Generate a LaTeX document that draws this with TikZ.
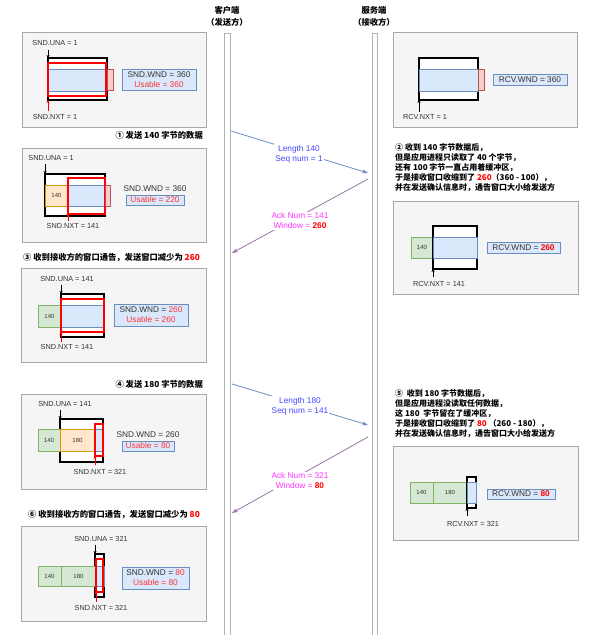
\documentclass[tikz,border=0pt]{standalone}
\usepackage{fontspec}
\setmainfont{Liberation Sans}
\newfontfamily\cjk{Noto Sans CJK SC}
\usetikzlibrary{arrows.meta}
\definecolor{bandF}{HTML}{DAE8FC}
\definecolor{bandD}{HTML}{6C8EBF}
\definecolor{pinkF}{HTML}{F8CECC}
\definecolor{pinkD}{HTML}{B85450}
\definecolor{orF}{HTML}{FFE6CC}
\definecolor{orD}{HTML}{D79B00}
\definecolor{grF}{HTML}{D5E8D4}
\definecolor{grD}{HTML}{82B366}
\definecolor{panelF}{HTML}{F5F5F5}
\definecolor{panelD}{HTML}{A8A8A8}
\definecolor{txt}{HTML}{333333}
\definecolor{rd}{HTML}{FF3333}
\definecolor{msgblue}{HTML}{4646FF}
\definecolor{ackmag}{HTML}{FF33FF}
\definecolor{arrblue}{HTML}{6C8EBF}
\definecolor{arrpur}{HTML}{9673A6}
\newcommand\bx[7]{\node[#2,minimum width={#5pt-#3pt},minimum height={#6pt-#4pt}] (#1) at ({(#3+#5)/2},{(#4+#6)/2}) {#7};}
\tikzset{
  cell/.style={rectangle, inner sep=0pt, outer sep=0pt, font=\fontsize{6}{7}\selectfont, text=txt},
  panel/.style={cell, draw=panelD, fill=panelF, line width=0.8pt},
  win/.style={cell, draw=black, fill=white, line width=1.3pt},
  redwin/.style={cell, draw=red, line width=1.3pt},
  band/.style={cell, draw=bandD, fill=bandF, line width=0.6pt},
  pinkb/.style={cell, draw=pinkD, fill=pinkF, line width=0.6pt},
  orb/.style={cell, draw=orD, fill=orF, line width=0.6pt},
  grb/.style={cell, draw=grD, fill=grF, line width=0.6pt},
  wndbox/.style={cell, draw=bandD, fill=bandF, line width=0.6pt, font=\fontsize{8.3}{10}\selectfont, align=center},
  lbl/.style={inner sep=0pt, font=\fontsize{7.3}{9}\selectfont, text=txt},
  big/.style={inner sep=0pt, font=\fontsize{8.3}{10}\selectfont, text=txt},
  life/.style={cell, draw=black!30, fill=white, line width=0.8pt},
  title/.style={inner sep=0pt, font=\cjk\bfseries\fontsize{8.3}{12}\selectfont, text=black},
  steptext/.style={inner sep=0pt, font=\cjk\bfseries\fontsize{8}{10}\selectfont, align=left, anchor=north west, text=black},
  msg/.style={inner sep=1pt, fill=white, font=\fontsize{8.3}{10}\selectfont, align=center, text=msgblue},
  ack/.style={inner sep=1pt, fill=white, font=\fontsize{8.3}{10}\selectfont, align=center, text=ackmag},
  parr/.style={-{Stealth[length=3pt,width=3pt]}, line width=0.6pt},
  marr/.style={-{Stealth[length=6pt,width=4pt]}, line width=0.8pt, draw=arrblue},
  aarr/.style={-{Stealth[length=6pt,width=4pt]}, line width=0.8pt, draw=arrpur},
}
\begin{document}
\begin{tikzpicture}[x=1pt,y=-1pt]
\useasboundingbox (0,0) rectangle (602,635);
% lifelines and headers
\bx{cl}{life}{224}{33}{230}{637}{}
\bx{sv}{life}{372}{33}{377}{637}{}
\node[title, align=center] (hc) at (227,16) {客户端\\（发送方）};
\node[title, align=center] (hs) at (374,16) {服务端\\（接收方）};

% ---------- box 1 (client)
\bx{p1}{panel}{22}{32}{206}{127}{}
\bx{blk1}{win}{48}{58}{107}{100}{}
\bx{band1}{band}{48}{69}{106}{91}{}
\bx{red1}{redwin}{48}{63}{106}{96}{}
\bx{pink1}{pinkb}{107}{69}{113}{90}{}
\node[lbl] (una1) at (55,43) {SND.UNA = 1};
\coordinate (una1a) at (48,50);
\draw[parr] (una1a) -- (blk1.north west);
\node[lbl] (nxt1) at (55,117) {SND.NXT = 1};
\coordinate (nxt1a) at (48,111);
\draw[parr, red] (nxt1a) -- (blk1.south west);
\bx{wnd1}{wndbox}{122}{69}{196}{90}{SND.WND = 360\\\textcolor{rd}{Usable = 360}}

% ---------- right box 1
\bx{q1}{panel}{393}{32}{577}{127}{}
\bx{rblk1}{win}{419}{58}{478}{100}{}
\bx{rband1}{band}{419}{69}{478}{91}{}
\bx{rpink1}{pinkb}{478}{69}{484}{90}{}
\node[lbl] (rnxt1) at (425,117) {RCV.NXT = 1};
\coordinate (rnxt1a) at (419,112);
\draw[parr] (rnxt1a) -- (rblk1.south west);
\bx{rwnd1}{wndbox}{493}{74}{567}{85}{RCV.WND = 360}

% ---------- step 1
\node[title, anchor=east] (t1) at (203,135) {① 发送 140 字节的数据};

% ---------- box 2
\bx{p2}{panel}{22}{148}{206}{242}{}
\bx{blk2}{win}{45}{174}{105}{216}{}
\bx{or2}{orb}{45}{185}{68}{206}{140}
\bx{band2}{band}{68}{185}{105}{206}{}
\bx{red2}{redwin}{68}{178}{105}{214}{}
\bx{pink2}{pinkb}{105}{185}{110}{206}{}
\node[lbl] (una2) at (51,158) {SND.UNA = 1};
\coordinate (una2a) at (45,164);
\draw[parr] (una2a) -- (blk2.north west);
\node[lbl] (nxt2) at (73,226) {SND.NXT = 141};
\coordinate (nxt2a) at (68,221);
\draw[parr, red] (nxt2a) -- (red2.south west);
\node[big] (sw2) at (155,189) {SND.WND = 360};
\bx{us2}{wndbox}{126}{195}{184}{205}{\textcolor{rd}{Usable = 220}}

% ---------- message 1 / ack 1
\coordinate (m1s) at (231,131);
\coordinate (m1e) at (368,173);
\draw[marr] (m1s) -- (m1e);
\node[msg] (m1l) at (299,154) {Length 140\\Seq num = 1};
\coordinate (a1s) at (368,179);
\coordinate (a1e) at (232,253);
\draw[aarr] (a1s) -- (a1e);
\node[ack] (a1l) at (300,221) {Ack Num = 141\\Window = \textcolor{red}{\textbf{260}}};

% ---------- step 2 text
\node[steptext] (s2) at (395,143.5) {② 收到 140 字节数据后，\\但是应用进程只读取了 40 个字节，\\还有 100 字节一直占用着缓冲区，\\于是接收窗口收缩到了 \textcolor{red}{260}（360 - 100），\\并在发送确认信息时，通告窗口大小给发送方};

% ---------- right box 2
\bx{q2}{panel}{393}{201}{578}{294}{}
\bx{rg2}{grb}{411}{237}{433}{258}{140}
\bx{rblk2}{win}{433}{226}{477}{269}{}
\bx{rband2}{band}{433}{237}{477}{258}{}
\node[lbl] (rnxt2) at (439,284) {RCV.NXT = 141};
\coordinate (rnxt2a) at (433,277);
\draw[parr] (rnxt2a) -- (rblk2.south west);
\bx{rwnd2}{wndbox}{487}{242}{560}{253}{RCV.WND = \textcolor{red}{\textbf{260}}}

% ---------- step 3
\node[title, anchor=west] (t3) at (23,258) {③ 收到接收方的窗口通告，发送窗口减少为 \textcolor{red}{260}};

% ---------- box 3
\bx{p3}{panel}{21}{268}{206}{362}{}
\bx{g3}{grb}{38}{305}{61}{327}{140}
\bx{blk3}{win}{61}{294}{104}{337}{}
\bx{band3}{band}{61}{305}{104}{327}{}
\bx{red3}{redwin}{61}{299}{104}{332}{}
\node[lbl] (una3) at (67,279) {SND.UNA = 141};
\coordinate (una3a) at (61,285);
\draw[parr] (una3a) -- (blk3.north west);
\node[lbl] (nxt3) at (67,347) {SND.NXT = 141};
\coordinate (nxt3a) at (61,342);
\draw[parr, red] (nxt3a) -- (red3.south west);
\bx{wnd3}{wndbox}{114}{304}{188}{326}{SND.WND = \textcolor{rd}{260}\\\textcolor{rd}{Usable = 260}}

% ---------- step 4
\node[title, anchor=east] (t4) at (203,384) {④ 发送 180 字节的数据};

% ---------- box 4
\bx{p4}{panel}{21}{394}{206}{489}{}
\bx{blk4}{win}{60}{419}{103}{462}{}
\bx{g4}{grb}{38}{429}{60}{451}{140}
\bx{or4}{orb}{60}{429}{95}{451}{180}
\bx{band4}{band}{95}{429}{103}{451}{}
\bx{red4}{redwin}{95}{424}{103}{456}{}
\node[lbl] (una4) at (65,404) {SND.UNA = 141};
\coordinate (una4a) at (60,410);
\draw[parr] (una4a) -- (blk4.north west);
\node[lbl] (nxt4) at (100,472) {SND.NXT = 321};
\coordinate (nxt4a) at (95,465);
\draw[parr, red] (nxt4a) -- (red4.south west);
\node[big] (sw4) at (148,435) {SND.WND = 260};
\bx{us4}{wndbox}{122}{441}{174}{451}{\textcolor{rd}{Usable = 80}}

% ---------- message 2 / ack 2
\coordinate (m2s) at (232,384);
\coordinate (m2e) at (368,425);
\draw[marr] (m2s) -- (m2e);
\node[msg] (m2l) at (300,406) {Length 180\\Seq num = 141};
\coordinate (a2s) at (368,437);
\coordinate (a2e) at (232,513);
\draw[aarr] (a2s) -- (a2e);
\node[ack] (a2l) at (300,481) {Ack Num = 321\\Window = \textcolor{red}{\textbf{80}}};

% ---------- step 5 text
\node[steptext] (s5) at (395,389.5) {⑤ \ 收到 180 字节数据后，\\但是应用进程没读取任何数据，\\这 180 \ 字节留在了缓冲区，\\于是接收窗口收缩到了 \textcolor{red}{80} （260 - 180），\\并在发送确认信息时，通告窗口大小给发送方};

% ---------- right box 3
\bx{q3}{panel}{393}{446}{578}{540}{}
\bx{rg3a}{grb}{410}{482}{433}{503}{140}
\bx{rg3b}{grb}{433}{482}{467}{503}{180}
\bx{rblk3}{win}{467}{477}{476}{508}{}
\bx{rband3}{band}{467}{482}{476}{503}{}
\node[lbl] (rnxt3) at (473,524) {RCV.NXT = 321};
\coordinate (rnxt3a) at (467,516);
\draw[parr] (rnxt3a) -- (rblk3.south west);
\bx{rwnd3}{wndbox}{487}{489}{555}{499}{RCV.WND = \textcolor{red}{\textbf{80}}}

% ---------- step 6
\node[title, anchor=west] (t6) at (28,515) {⑥ 收到接收方的窗口通告，发送窗口减少为 \textcolor{red}{80}};

% ---------- box 6
\bx{p6}{panel}{21}{526}{206}{621}{}
\bx{blk6}{win}{95}{554}{104}{597}{}
\bx{g6a}{grb}{38}{566}{61}{586}{140}
\bx{g6b}{grb}{61}{566}{96}{586}{180}
\bx{band6}{band}{96}{566}{104}{586}{}
\bx{red6}{redwin}{96}{559}{103}{592}{}
\node[lbl] (una6) at (101,539) {SND.UNA = 321};
\coordinate (una6a) at (95,545);
\draw[parr] (una6a) -- (blk6.north west);
\node[lbl] (nxt6) at (101,608) {SND.NXT = 321};
\coordinate (nxt6a) at (96,602);
\draw[parr, red] (nxt6a) -- (red6.south west);
\bx{wnd6}{wndbox}{122}{567}{189}{589}{SND.WND = \textcolor{rd}{80}\\\textcolor{rd}{Usable = 80}}
\end{tikzpicture}
\end{document}
